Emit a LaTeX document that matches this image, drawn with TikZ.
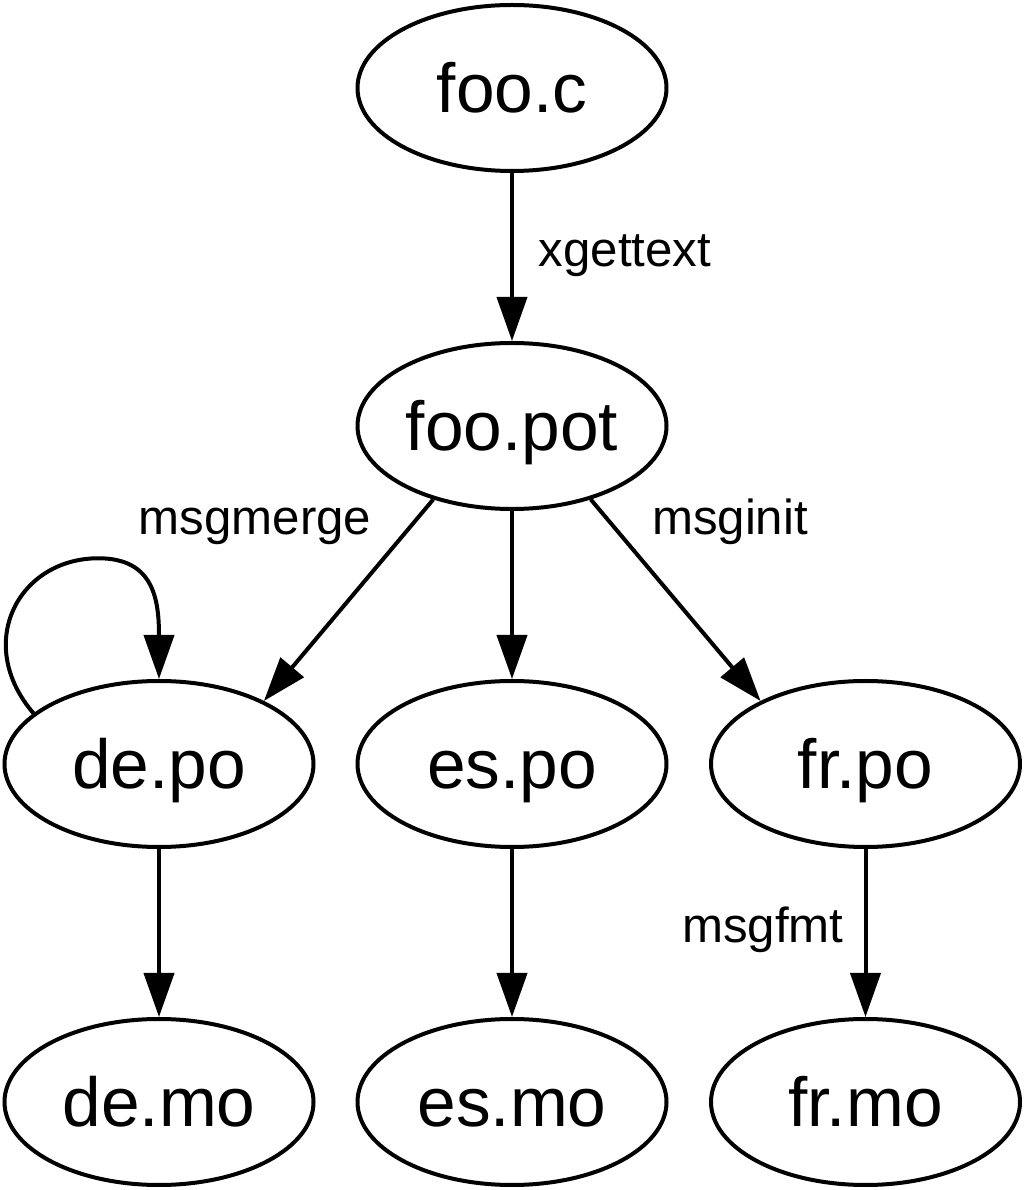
\documentclass[tikz,border=0pt]{standalone}
\usepackage{fontspec}
\setmainfont{Liberation Sans}
\usetikzlibrary{shapes.geometric, arrows.meta}
\tikzstyle{file} = [ellipse, draw=black, line width=0.08cm, minimum width=6.18cm, minimum height=3.32cm, inner sep=0pt, text height=0.99cm, text depth=0cm, font=\fontsize{39.5}{40}\selectfont]
\tikzstyle{arrow} = [line width=0.08cm, -{Triangle[length=0.88cm, width=0.6cm]}]
\tikzstyle{cmd} = [anchor=base, font=\fontsize{28}{30}\selectfont]
\begin{document}
\begin{tikzpicture}
                        \useasboundingbox (0,0) rectangle (20.48,23.8);
                        \node [file] (fooc) at (10.24, 22.04) {foo.c};
                        \node [file] (foopot) at (10.24, 15.28) {foo.pot};
                        \node [file] (depo) at (3.18, 8.52) {de.po};
                        \node [file] (espo) at (10.24, 8.52) {es.po};
                        \node [file] (frpo) at (17.31, 8.52) {fr.po};
                        \node [file] (demo) at (3.18, 1.76) {de.mo};
                        \node [file] (esmo) at (10.24, 1.76) {es.mo};
                        \node [file] (frmo) at (17.31, 1.76) {fr.mo};
                        \draw [arrow] (fooc) -- (foopot);
                        \draw [arrow] (foopot.223) -- (depo.31);
                        \draw [arrow] (foopot) -- (espo);
                        \draw [arrow] (foopot.317) -- (frpo.149);
                        \draw [arrow] (depo.158) .. controls +(-1.2,1.4) and +(-1.6,0) .. ++(1.3,3.1)
                            .. controls +(1.1,0) and +(0,1.6) .. (depo.north);
                        \draw [arrow] (depo) -- (demo);
                        \draw [arrow] (espo) -- (esmo);
                        \draw [arrow] (frpo) -- (frmo);
                        \node [cmd] (xgettext) at (12.5, 18.46) {xgettext};
                        \node [cmd] (msgmerge) at (5.1, 13.1) {msgmerge};
                        \node [cmd] (msginit) at (14.6, 13.1) {msginit};
                        \node [cmd] (msgfmt) at (15.26, 4.94) {msgfmt};
                    \end{tikzpicture}
\end{document}
